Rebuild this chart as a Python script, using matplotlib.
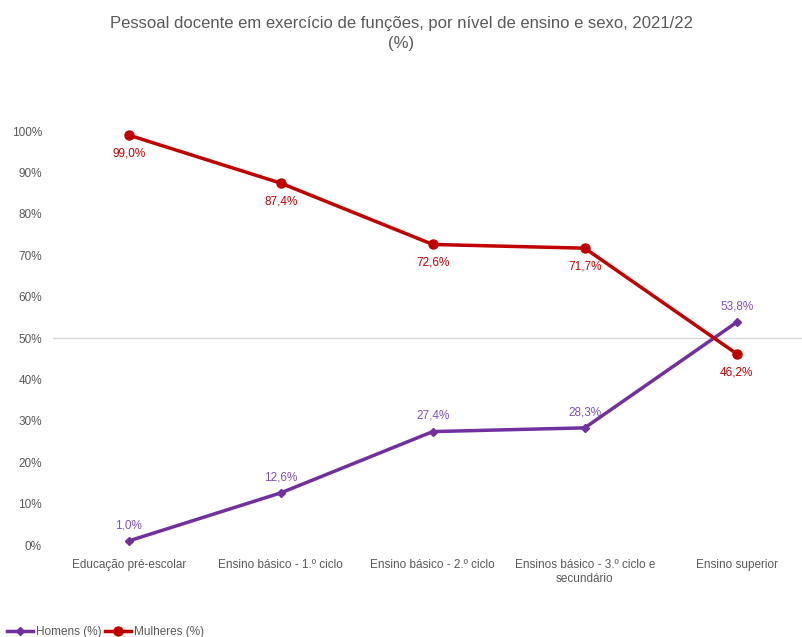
import matplotlib.pyplot as plt
from matplotlib.ticker import FuncFormatter

categorias = ["Educação pré-escolar", "Ensino básico - 1.º ciclo", "Ensino básico - 2.º ciclo",
              "Ensinos básico - 3.º ciclo e\nsecundário", "Ensino superior"]
homens = [1.0, 12.6, 27.4, 28.3, 53.8]
mulheres = [99.0, 87.4, 72.6, 71.7, 46.2]

cor_h = '#7030A0'
cor_m = '#C00000'

plt.rcParams['font.family'] = ['Liberation Sans', 'DejaVu Sans']

fig = plt.figure(figsize=(8.02, 6.37), dpi=100)
ax = fig.add_axes([0.066, 0.1444, 0.934, 0.6499])

x = list(range(len(categorias)))
ax.axhline(50, color='#d9d9d9', lw=1, zorder=0)
ax.plot(x, homens, color=cor_h, lw=2.5, marker='D', ms=4.5, label='Homens (%)', clip_on=False)
ax.plot(x, mulheres, color=cor_m, lw=2.5, marker='o', ms=6.5, label='Mulheres (%)', clip_on=False)

for i in x:
    ax.annotate(f"{homens[i]:.1f}%".replace('.', ','), (i, homens[i]), xytext=(0, 7),
                textcoords='offset points', ha='center', va='bottom', color='#7f4fbf', fontsize=8.5)
    ax.annotate(f"{mulheres[i]:.1f}%".replace('.', ','), (i, mulheres[i]), xytext=(0, -9),
                textcoords='offset points', ha='center', va='top', color=cor_m, fontsize=8.5)

ax.set_xlim(-0.5, 4.43)
ax.set_ylim(0, 100)
ax.set_yticks(range(0, 101, 10))
ax.yaxis.set_major_formatter(FuncFormatter(lambda v, p: f"{v:.0f}%"))
ax.set_xticks(x)
ax.set_xticklabels(categorias)
ax.tick_params(length=0, labelsize=8.5, labelcolor='#595959')
ax.tick_params(axis='x', pad=10)
ax.tick_params(axis='y', pad=8)
for s in ax.spines.values():
    s.set_visible(False)

fig.text(0.5, 0.975, "Pessoal docente em exercício de funções, por nível de ensino e sexo, 2021/22\n(%)",
         ha='center', va='top', fontsize=12, color='#595959', linespacing=1.45)

fig.legend(loc='lower left', bbox_to_anchor=(-0.005, -0.018), ncol=2, frameon=False, fontsize=8.5,
           labelcolor='#595959', handlelength=2.2, handletextpad=0.25, columnspacing=0.3)

plt.savefig('out.png', dpi=100)
